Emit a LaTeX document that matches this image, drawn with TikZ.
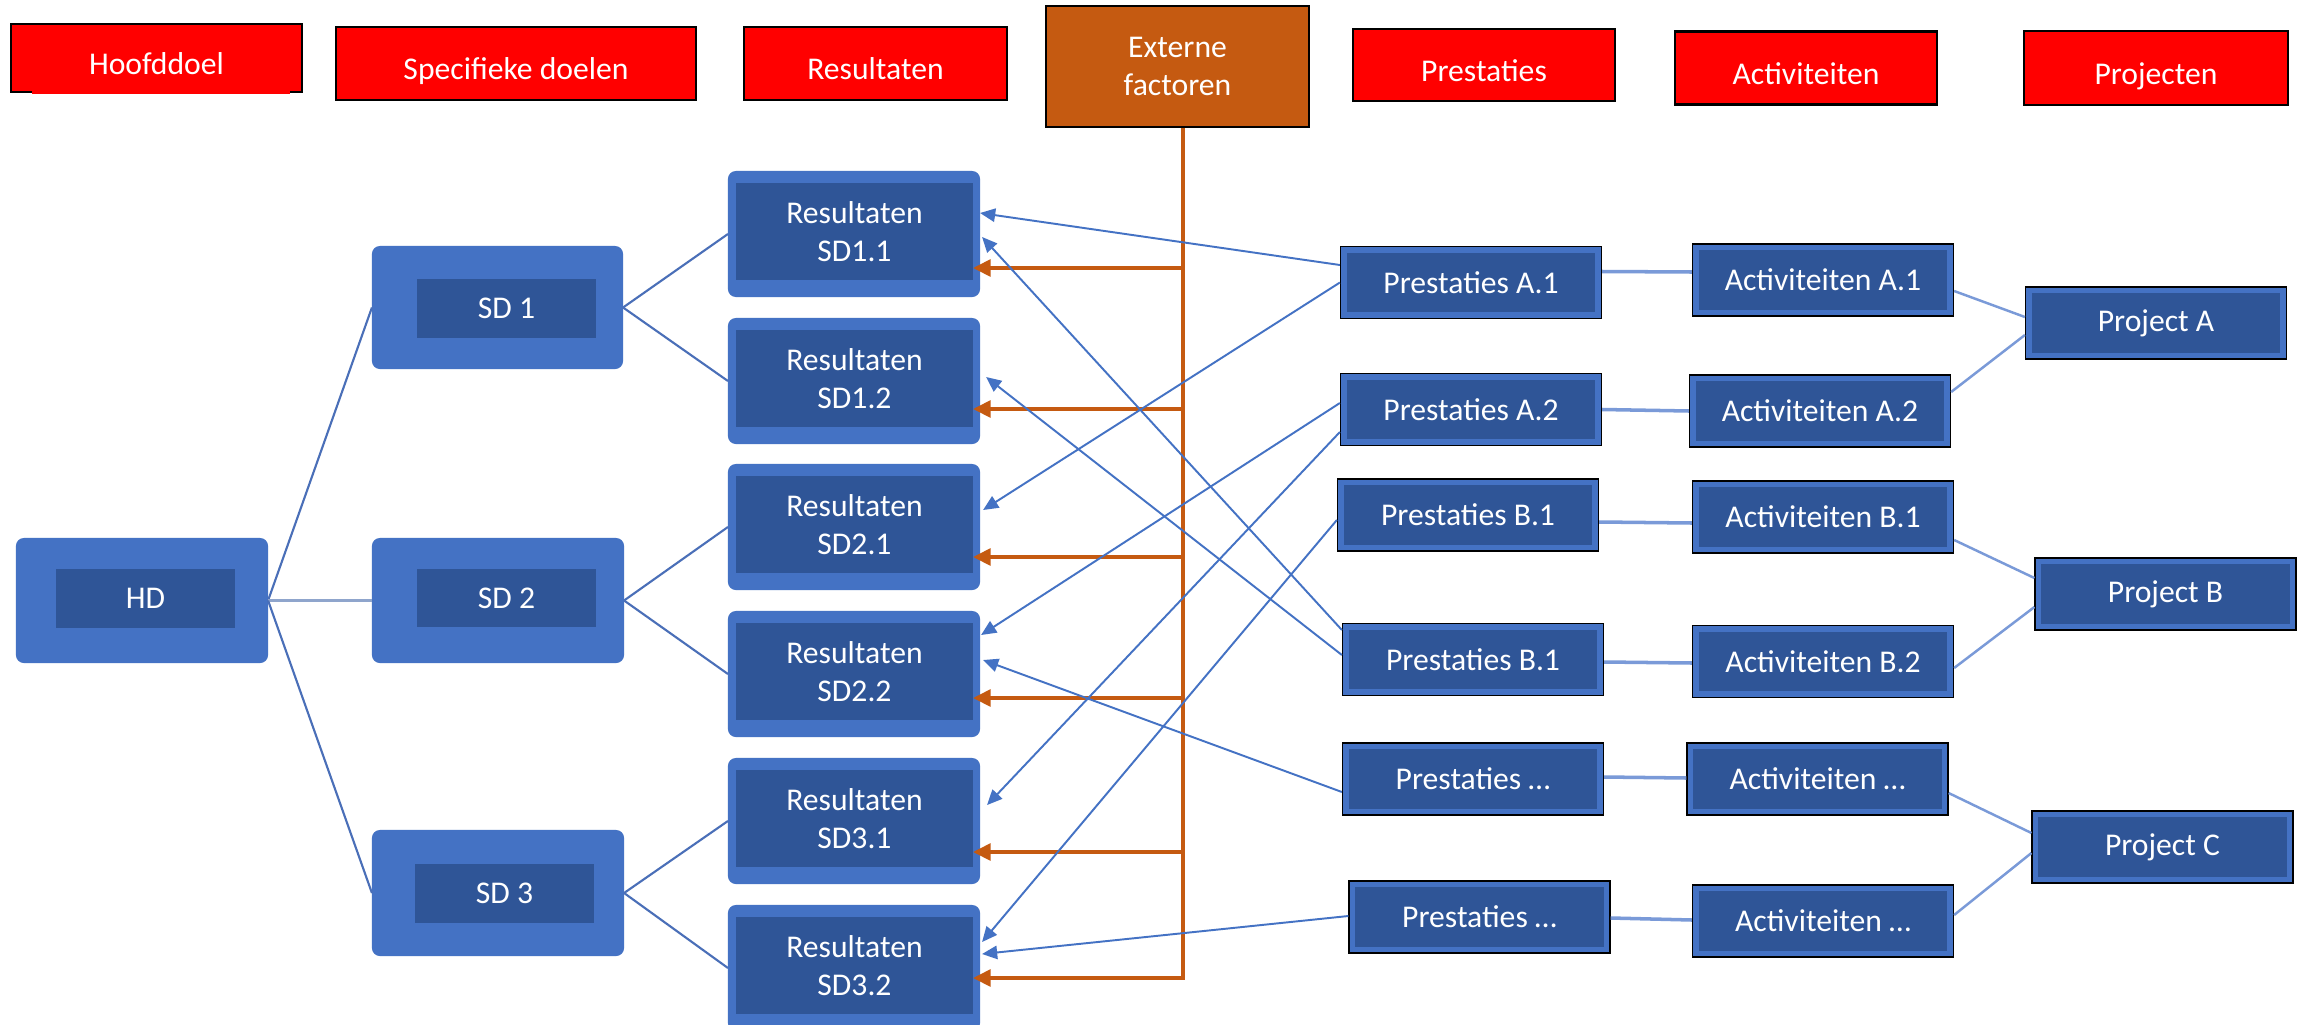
\documentclass[tikz,border=0pt]{standalone}
\usepackage{fontspec}
\setmainfont{Carlito}
\usetikzlibrary{calc,arrows.meta}
\definecolor{mblue}{HTML}{4472C4}
\definecolor{dblue}{HTML}{2F5597}
\definecolor{hred}{HTML}{FF0000}
\definecolor{orng}{HTML}{C55A11}
\definecolor{lineblue}{HTML}{4A6FB8}
\definecolor{paleblue}{HTML}{8FA5CC}
\definecolor{linkblue}{HTML}{7A9AD8}
\newcommand\dfont{\fontsize{9}{11}\selectfont}
\tikzset{
  obox/.style={fill=mblue, rounded corners=0.08cm, inner sep=0pt, outer sep=0pt, minimum width=2.52cm, minimum height=1.26cm},
  ibox/.style={fill=dblue, text=white, inner sep=0pt, align=center, font=\dfont},
  rbox/.style={fill=dblue, draw=mblue, line width=1.5pt, preaction={draw=black, line width=2.3pt}, text=white, font=\dfont, inner sep=0pt, outer sep=1.15pt, minimum width=2.54cm, minimum height=0.65cm},
  hbox/.style={fill=hred, draw=black, line width=0.6pt, text=white, font=\dfont, inner sep=0pt, align=center},
  htext/.style={text height=9.6pt, text depth=0.4pt},
  tline/.style={draw=lineblue, line width=0.6pt},
  barrow/.style={draw=mblue, line width=0.55pt, -{Triangle[length=4.3pt,width=3.8pt]}},
  oline/.style={draw=orng, line width=0.9pt},
  oarrow/.style={draw=orng, line width=0.95pt, -{Triangle[length=5pt,width=4.8pt]}},
  rline/.style={draw=linkblue, line width=1pt},
  pline/.style={draw=linkblue, line width=0.7pt}
}
\begin{document}
\begin{tikzpicture}[x=0.01cm,y=-0.01cm]
\useasboundingbox (0,0) rectangle (2303,1024);
\fill[white] (0,0) rectangle (2303,1024);

% headers
\node[hbox, htext, minimum width=2.91cm, minimum height=0.68cm] (hHD) at (156.5,58) {Hoofddoel};
\fill[hred] (32,89) rectangle (290,94);
\node[hbox, htext, minimum width=3.60cm, minimum height=0.73cm] (hSD) at (516,63.5) {Specifieke doelen};
\node[hbox, htext, minimum width=2.63cm, minimum height=0.73cm] (hRes) at (875.5,63.5) {Resultaten};
\node[hbox, fill=orng, minimum width=2.63cm, minimum height=1.21cm] (ext) at (1177.5,66.5) {Externe\\factoren};
\node[hbox, htext, minimum width=2.62cm, minimum height=0.72cm] (hPr) at (1484,65) {Prestaties};
\node[hbox, htext, minimum width=2.62cm, minimum height=0.73cm] (hAc) at (1806,68) {Activiteiten};
\node[hbox, htext, minimum width=2.64cm, minimum height=0.74cm] (hPj) at (2156,68) {Projecten};

% left column
\node[obox, minimum height=1.25cm] (HDo) at (142,600.5) {};
\node[ibox, minimum width=1.79cm, minimum height=0.59cm] (HD) at (145.5,598.5) {HD};
\node[obox, minimum width=2.51cm, minimum height=1.23cm] (SD1o) at (497.5,307.5) {};
\node[ibox, minimum width=1.79cm, minimum height=0.59cm] (SD1) at (506.5,308.5) {SD 1};
\node[obox, minimum height=1.25cm] (SD2o) at (498,600.5) {};
\node[ibox, minimum width=1.79cm, minimum height=0.58cm] (SD2) at (506.5,598) {SD 2};
\node[obox, minimum height=1.26cm] (SD3o) at (498,893) {};
\node[ibox, minimum width=1.79cm, minimum height=0.59cm] (SD3) at (504.5,893.5) {SD 3};

% resultaten
\foreach \n/\c/\t in {r11/234/SD1.1, r12/381/SD1.2, r21/527/SD2.1, r22/674/SD2.2, r31/821/SD3.1, r32/968/SD3.2}{
  \node[obox] (\n o) at (854,\c) {};
  \node[ibox, minimum width=2.37cm, minimum height=0.97cm] (\n) at (854.5,\c-2.5) {Resultaten\\\t};
}

% right column
\node[rbox] (pA1) at (1471,282.5) {Prestaties A.1};
\node[rbox] (pA2) at (1471,409.5) {Prestaties A.2};
\node[rbox] (pB1) at (1468,515) {Prestaties B.1};
\node[rbox] (pB1b) at (1473,659.5) {Prestaties B.1};
\node[rbox] (pX1) at (1473,779) {Prestaties …};
\node[rbox] (pX2) at (1479.5,917) {Prestaties …};
\node[rbox] (aA1) at (1823,280) {Activiteiten A.1};
\node[rbox] (aA2) at (1820,411) {Activiteiten A.2};
\node[rbox] (aB1) at (1823,517) {Activiteiten B.1};
\node[rbox] (aB2) at (1823,661.5) {Activiteiten B.2};
\node[rbox] (aX1) at (1817.5,779) {Activiteiten …};
\node[rbox] (aX2) at (1823,921) {Activiteiten …};
\node[rbox] (prA) at (2156,323) {Project A};
\node[rbox] (prB) at (2165.5,594) {Project B};
\node[rbox] (prC) at (2162.5,847) {Project C};

% tree connectors
\draw[tline] (HDo.east) -- (SD1o.west);
\draw[draw=paleblue, line width=1.1pt] (HDo.east) -- (SD2o.west);
\draw[tline] (HDo.east) -- (SD3o.west);
\draw[tline] (SD1o.east) -- (r11o.west);
\draw[tline] (SD1o.east) -- (r12o.west);
\draw[tline] (SD2o.east) -- (r21o.west);
\draw[tline] (SD2o.east) -- (r22o.west);
\draw[tline] (SD3o.east) -- (r31o.west);
\draw[tline] (SD3o.east) -- (r32o.west);

% external factors
\coordinate (vtop) at ($(ext.south)+(5.5,0)$);
\coordinate (o1) at ($(r11o.east)+(-7,34)$);
\coordinate (o2) at ($(r12o.east)+(-7,28)$);
\coordinate (o3) at ($(r21o.east)+(-7,30)$);
\coordinate (o4) at ($(r22o.east)+(-7,24)$);
\coordinate (o5) at ($(r31o.east)+(-7,31)$);
\coordinate (o6) at ($(r32o.east)+(-7,10)$);
\draw[oarrow] (vtop) -- (vtop |- o6) -- (o6);
\foreach \o in {o1,o2,o3,o4,o5}{
  \draw[oarrow] (vtop |- \o) -- (\o);
}

% prestaties -> resultaten
\draw[barrow] ($(pA1.west)+(0,-17.5)$) -- ($(r11o.east)+(0,-21)$);
\draw[barrow] (pA1.west) -- ($(r21o.east)+(3,-17)$);
\draw[barrow] ($(pA2.west)+(0,-6.5)$) -- ($(r22o.east)+(1,-39)$);
\draw[barrow] ($(pA2.west)+(0,22.5)$) -- ($(r31o.east)+(7,-16)$);
\draw[barrow] ($(pB1.west)+(0,5)$) -- ($(r32o.east)+(2,-26)$);
\draw[barrow] ($(pB1b.west)+(0,-29.5)$) -- ($(r11o.east)+(2,3)$);
\draw[barrow] ($(pB1b.west)+(0,-4.5)$) -- ($(r12o.east)+(6,-4)$);
\draw[barrow] ($(pX1.west)+(0,13)$) -- ($(r22o.east)+(3,-14)$);
\draw[barrow] ($(pX2.west)+(0,-1)$) -- ($(r32o.east)+(2,-14)$);

% prestaties -> activiteiten
\draw[rline] ($(pA1.east)+(0,-11)$) -- ($(aA1.west)+(0,-8)$);
\draw[rline] (pA2.east) -- (aA2.west);
\draw[rline] ($(pB1.east)+(0,7)$) -- ($(aB1.west)+(0,6)$);
\draw[rline] ($(pB1b.east)+(0,2.5)$) -- ($(aB2.west)+(0,1.5)$);
\draw[rline] ($(pX1.east)+(0,-2)$) -- ($(aX1.west)+(0,-1)$);
\draw[rline] ($(pX2.east)+(0,1)$) -- ($(aX2.west)+(0,-1)$);

% activiteiten -> projecten
\draw[pline] ($(aA1.east)+(0,11)$) -- ($(prA.west)+(0,-6)$);
\draw[pline] ($(aA2.east)+(0,-19)$) -- ($(prA.west)+(0,12)$);
\draw[pline] ($(aB1.east)+(0,23)$) -- ($(prB.west)+(0,-16)$);
\draw[pline] ($(aB2.east)+(0,6.5)$) -- ($(prB.west)+(0,13)$);
\draw[pline] ($(aX1.east)+(0,14)$) -- ($(prC.west)+(0,-14)$);
\draw[pline] ($(aX2.east)+(0,-6)$) -- ($(prC.west)+(0,6)$);
\end{tikzpicture}
\end{document}
